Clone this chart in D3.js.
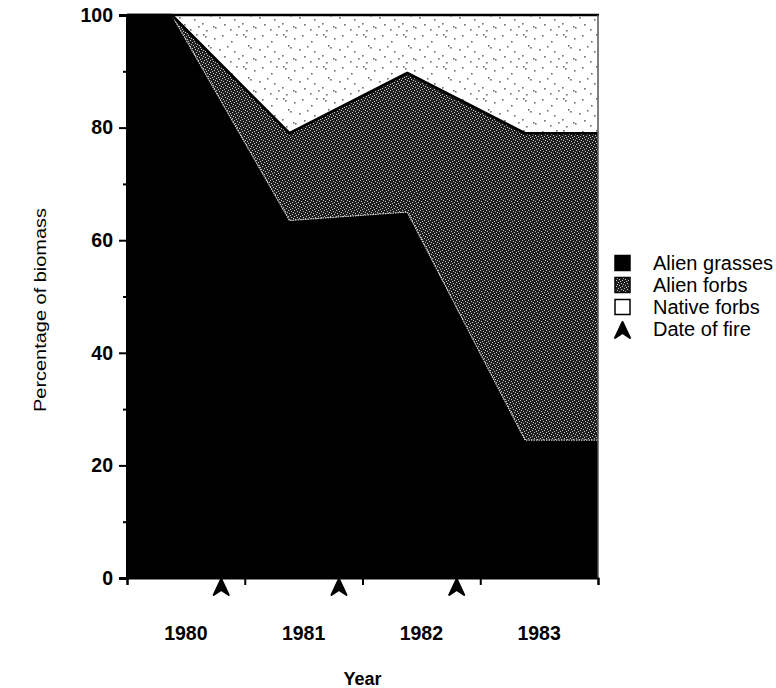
<!DOCTYPE html>
<html>
<head>
<meta charset="utf-8">
<script src="https://cdn.jsdelivr.net/npm/d3@7"></script>
<style>
  html, body { margin: 0; padding: 0; background: #fff; }
  svg { display: block; font-family: "Liberation Sans", Arial, Helvetica, sans-serif; }
</style>
</head>
<body>
<svg id="chart" width="776" height="688"></svg>
<script>
// ---- data ----
const sampleDates   = [1980.0, 1980.38, 1981.38, 1982.38, 1983.38, 1984.0];
const alienGrasses  = [100, 100, 63.5, 65.0, 24.5, 24.5];
const alienForbs    = [0,   0,   15.5, 24.7, 54.5, 54.5];
const nativeForbs   = [0,   0,   21.0, 10.3, 21.0, 21.0];
const fireDates     = [1980.8, 1981.8, 1982.8];
const yearLabels    = ["1980", "1981", "1982", "1983"];
const yearStarts    = [1980, 1981, 1982, 1983, 1984];
const yTicks        = [0, 20, 40, 60, 80, 100];
const yMinorTicks   = [10, 30, 50, 70, 90];
const seriesNames   = ["Alien grasses", "Alien forbs", "Native forbs"];
const legendLabels  = ["Alien grasses", "Alien forbs", "Native forbs", "Date of fire"];

const svg = d3.select("#chart");
const plotLeft = 127, plotRight = 598, plotTop = 15, plotBottom = 578;

const x = d3.scaleLinear().domain([1980, 1984]).range([plotLeft, plotRight]);
const y = d3.scaleLinear().domain([0, 100]).range([plotBottom, plotTop]);

// ---- patterns (texture only) ----
const defs = svg.append("defs");
const pf = defs.append("pattern").attr("id", "forbs").attr("patternUnits", "userSpaceOnUse")
  .attr("width", 6).attr("height", 6);
pf.append("rect").attr("width", 6).attr("height", 6).attr("fill", "#1e1e1e");
[[0,0],[3,1],[1,3],[4,4],[5,2],[2,5]].forEach(([a,b]) =>
  pf.append("rect").attr("x", a).attr("y", b).attr("width", 1).attr("height", 1).attr("fill", "#c8c8c8"));

const pn = defs.append("pattern").attr("id", "native").attr("patternUnits", "userSpaceOnUse")
  .attr("width", 40).attr("height", 32);
pn.append("rect").attr("width", 40).attr("height", 32).attr("fill", "#fff");
[[3,2],[5,4],[14,6],[22,3],[31,9],[36,2],[8,13],[10,15],[19,17],[27,14],[34,19],
 [2,23],[13,26],[15,27],[24,24],[30,29],[38,26],[6,30]].forEach(([a,b]) =>
  pn.append("rect").attr("x", a).attr("y", b).attr("width", 1.6).attr("height", 1.6).attr("fill", "#707070"));

// ---- stacked areas ----
const rows = sampleDates.map((d, i) => ({
  date: d,
  "Alien grasses": alienGrasses[i],
  "Alien forbs": alienForbs[i],
  "Native forbs": nativeForbs[i]
}));
const stack = d3.stack().keys(seriesNames)(rows);
const fills = { "Alien grasses": "#000", "Alien forbs": "url(#forbs)", "Native forbs": "url(#native)" };
const area = d3.area().x(d => x(d.data.date)).y0(d => y(d[0])).y1(d => y(d[1]));

svg.append("g").selectAll("path").data(stack).join("path")
  .attr("d", area).attr("fill", d => fills[d.key]);

// light edge on top of grasses
svg.append("path")
  .datum(stack[0].slice(1))
  .attr("d", d3.line().x(d => x(d.data.date)).y(d => y(d[1])))
  .attr("fill", "none").attr("stroke", "#cfcfcf").attr("stroke-width", 1.2)
  .attr("stroke-dasharray", "1.5,1");

// black line on top of alien forbs
svg.append("path")
  .datum(stack[1])
  .attr("d", d3.line().x(d => x(d.data.date)).y(d => y(d[1])))
  .attr("fill", "none").attr("stroke", "#000").attr("stroke-width", 2.6).attr("stroke-linejoin", "round");

// frame: top and right
svg.append("line").attr("x1", plotLeft).attr("x2", plotRight + 1).attr("y1", y(100)).attr("y2", y(100))
  .attr("stroke", "#000").attr("stroke-width", 2.5);
svg.append("line").attr("x1", plotRight).attr("x2", plotRight).attr("y1", y(100)).attr("y2", y(0))
  .attr("stroke", "#555").attr("stroke-width", 1.5);

// ---- y axis ----
const yAxis = svg.append("g").attr("transform", `translate(${plotLeft},0)`)
  .call(d3.axisLeft(y).tickValues(yTicks).tickSize(8).tickPadding(6).tickFormat(d3.format("d")));
yAxis.select(".domain").attr("stroke", "#000").attr("stroke-width", 3);
yAxis.selectAll(".tick line").attr("stroke", "#000").attr("stroke-width", 2);
yAxis.selectAll(".tick text").attr("font-size", 19.5).attr("font-weight", "bold")
  .attr("font-family", "Liberation Sans, Arial, sans-serif").attr("fill", "#000");
svg.append("g").attr("transform", `translate(${plotLeft},0)`)
  .call(d3.axisLeft(y).tickValues(yMinorTicks).tickSize(4).tickFormat(""))
  .call(g => g.select(".domain").remove())
  .selectAll(".tick line").attr("stroke", "#000").attr("stroke-width", 2);

// ---- x axis ----
const xAxis = svg.append("g").attr("transform", `translate(0,${plotBottom})`)
  .call(d3.axisBottom(x).tickValues(yearStarts).tickSize(7).tickFormat(""));
xAxis.select(".domain").attr("stroke", "#000").attr("stroke-width", 2);
xAxis.selectAll(".tick line").attr("stroke", "#000").attr("stroke-width", 2);

svg.append("g").selectAll("text").data(yearLabels).join("text")
  .attr("x", (d, i) => x(yearStarts[i] + 0.5)).attr("y", 640)
  .attr("text-anchor", "middle").attr("font-size", 19.5).attr("font-weight", "bold")
  .text(d => d);

// fire arrows
const arrow = "M0,0 L7.5,16 L0,11 L-7.5,16 Z";
svg.append("g").selectAll("path").data(fireDates).join("path")
  .attr("transform", d => `translate(${x(d)},${plotBottom + 1})`)
  .attr("d", arrow).attr("fill", "#000").attr("stroke", "#000").attr("stroke-width", 2)
  .attr("stroke-linejoin", "round");

// axis titles
svg.append("text").attr("x", x(1982)).attr("y", 685)
  .attr("text-anchor", "middle").attr("font-size", 18).attr("font-weight", "bold").text("Year");
svg.append("text").attr("transform", "translate(46,310) rotate(-90)")
  .attr("text-anchor", "middle").attr("font-size", 16.5).attr("textLength", 204)
  .attr("lengthAdjust", "spacingAndGlyphs").text("Percentage of biomass");

// ---- legend ----
const lg = svg.append("g");
const rowY = [263, 285, 307, 329];
const legendFills = ["#000", "url(#forbs)", "#fff"];
legendFills.forEach((f, i) => {
  lg.append("rect").attr("x", 615).attr("y", rowY[i] - 7.5).attr("width", 15).attr("height", 15)
    .attr("fill", f).attr("stroke", "#000").attr("stroke-width", 1.5);
});
lg.append("path").attr("transform", `translate(622.5,${rowY[3] - 7})`).attr("d", arrow)
  .attr("fill", "#000").attr("stroke", "#000").attr("stroke-width", 2).attr("stroke-linejoin", "round");
lg.selectAll("text").data(legendLabels).join("text")
  .attr("x", 653).attr("y", (d, i) => rowY[i] + 6.5)
  .attr("font-size", 20).text(d => d);
</script>
</body>
</html>
